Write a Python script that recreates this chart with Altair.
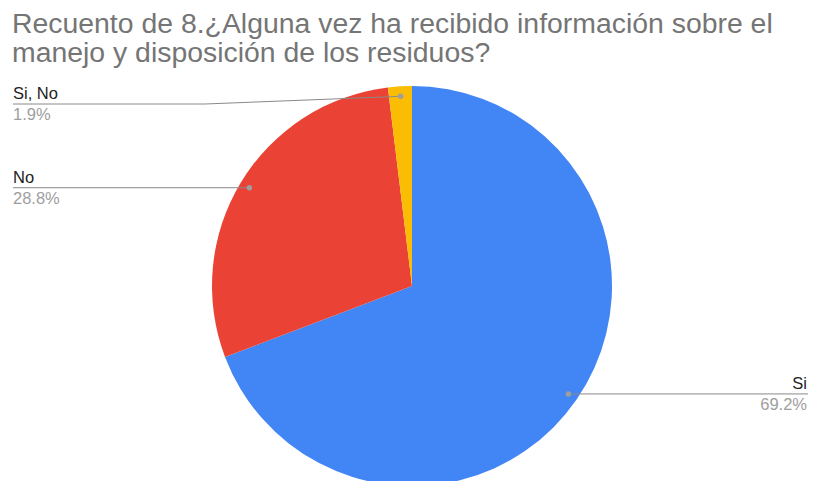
import math
import altair as alt
import pandas as pd

# ---- data ----
categories = ["Si", "No", "Si, No"]
counts = [36, 15, 1]
percent_labels = ["69.2%", "28.8%", "1.9%"]
colors = ["#4285f4", "#ea4335", "#fbbc04"]
title_lines = ["Recuento de 8.¿Alguna vez ha recibido información sobre el",
               "manejo y disposición de los residuos?"]

# ---- layout (pixels in chart coordinates) ----
W, H = 800, 473
CX, CY, R = 404, 278, 200
DOT_R = 190
label_side = ["right", "left", "left"]
label_line_y = [None, None, 96]   # None: use the dot's height
elbow_x = [None, None, 197]
left_x, right_x = 5, 800

total = sum(counts)
df = pd.DataFrame({"cat": categories, "count": counts, "idx": range(len(counts))})

# dot positions at mid-angle of each slice (clockwise from 12 o'clock)
dots, lines, texts = [], [], []
cum = 0
for i, (c, v) in enumerate(zip(categories, counts)):
    mid = (cum + v / 2) / total * 2 * math.pi
    cum += v
    dx = CX + DOT_R * math.sin(mid)
    dy = CY - DOT_R * math.cos(mid)
    dots.append({"x": dx, "y": dy})
    ly = dy if label_line_y[i] is None else label_line_y[i]
    end_x = right_x if label_side[i] == "right" else left_x
    pts = [(dx, dy)]
    if elbow_x[i] is not None:
        pts.append((elbow_x[i], ly))
    pts.append((end_x, ly))
    for k, (px, py) in enumerate(pts):
        lines.append({"g": c, "o": k, "x": px, "y": py})
    align = "right" if label_side[i] == "right" else "left"
    tx = right_x - 1 if align == "right" else left_x
    texts.append({"x": tx, "y": ly - 5, "t": c, "col": "#222222", "align": align})
    texts.append({"x": tx, "y": ly + 16, "t": percent_labels[i], "col": "#9e9e9e", "align": align})

dots_df = pd.DataFrame(dots)
lines_df = pd.DataFrame(lines)
texts_df = pd.DataFrame(texts)

pie = alt.Chart(df).mark_arc(outerRadius=R).encode(
    theta=alt.Theta("count:Q", stack=True),
    color=alt.Color("cat:N", scale=alt.Scale(domain=categories, range=colors), legend=None),
    order=alt.Order("idx:Q"),
    x=alt.value(CX),
    y=alt.value(CY),
)

leader = alt.Chart(lines_df).mark_line(color="#8a8a8a", strokeWidth=1).encode(
    x=alt.X("x:Q", scale=None),
    y=alt.Y("y:Q", scale=None),
    detail="g:N",
    order="o:Q",
)

dot = alt.Chart(dots_df).mark_circle(color="#9e9e9e", size=30, opacity=1).encode(
    x=alt.X("x:Q", scale=None),
    y=alt.Y("y:Q", scale=None),
)

left_txt = alt.Chart(texts_df[texts_df["align"] == "left"]).mark_text(
    align="left", baseline="alphabetic", font="Liberation Sans", fontSize=16.5
).encode(
    x=alt.X("x:Q", scale=None),
    y=alt.Y("y:Q", scale=None),
    text="t:N",
    color=alt.Color("col:N", scale=None),
)
right_txt = alt.Chart(texts_df[texts_df["align"] == "right"]).mark_text(
    align="right", baseline="alphabetic", font="Liberation Sans", fontSize=16.5
).encode(
    x=alt.X("x:Q", scale=None),
    y=alt.Y("y:Q", scale=None),
    text="t:N",
    color=alt.Color("col:N", scale=None),
)

title_df = pd.DataFrame({"t": title_lines, "x": [4, 4], "y": [25, 54]})
title = alt.Chart(title_df).mark_text(
    align="left", baseline="alphabetic", font="Liberation Sans", fontSize=28.4, color="#757575"
).encode(
    x=alt.X("x:Q", scale=None),
    y=alt.Y("y:Q", scale=None),
    text="t:N",
)

chart = alt.layer(pie, leader, dot, left_txt, right_txt, title).properties(
    width=W, height=H, padding=0, autosize=alt.AutoSizeParams(type="none")
).configure_view(stroke=None)

chart.save("out.html", embed_options={"renderer": "svg", "actions": False})
